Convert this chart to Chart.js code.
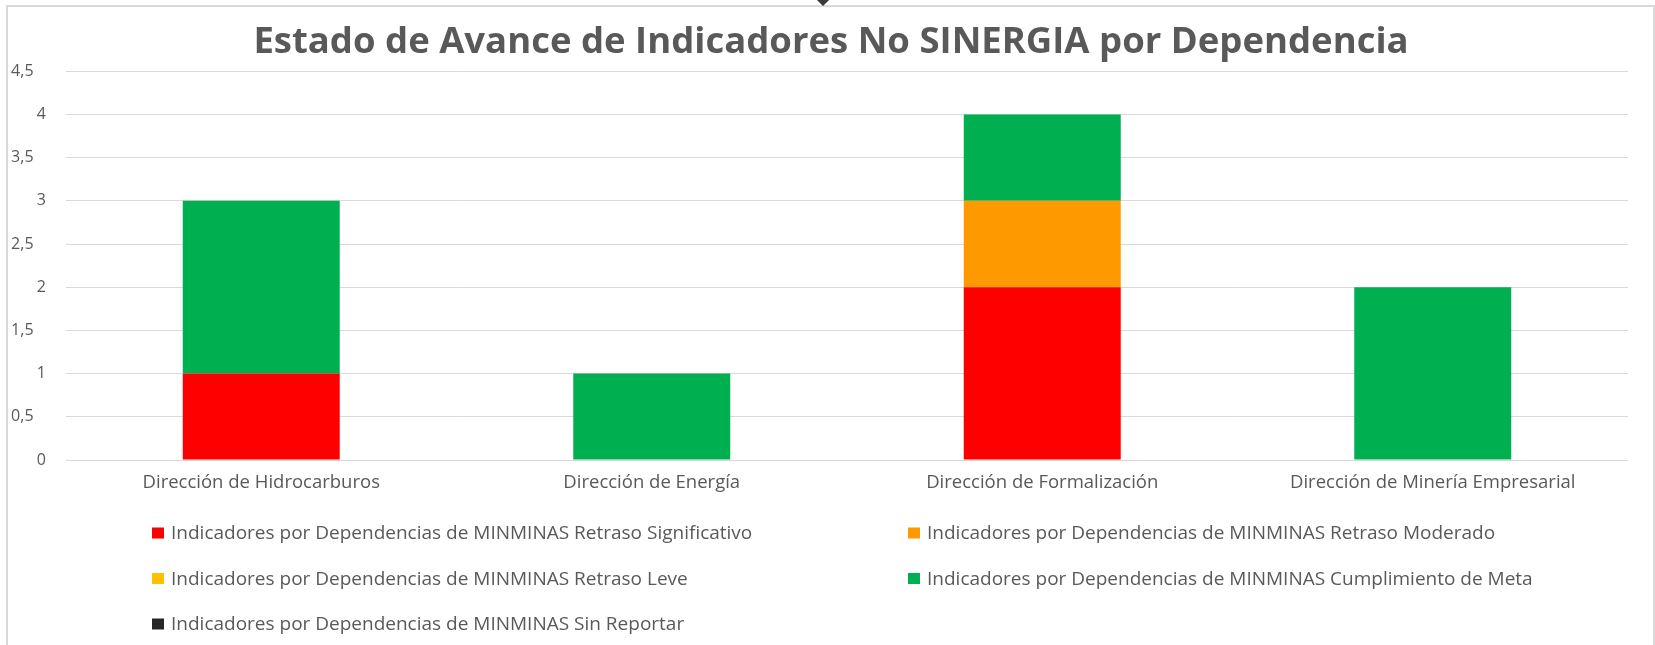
<!DOCTYPE html>
<html>
<head>
<meta charset="utf-8">
<script src="https://cdn.jsdelivr.net/npm/chart.js@4"></script>
<style>
  html, body { margin: 0; padding: 0; background: #fff; }
  #wrap { position: relative; width: 1655px; height: 645px; overflow: hidden; }
  #marco { position: absolute; left: 6px; top: 5px; width: 1649px; height: 700px; border: 2px solid #d9d9d9; box-sizing: border-box; }
  #asa { position: absolute; left: 818px; top: -6px; width: 10px; height: 10px; background: #3a3a3a; transform: rotate(45deg); }
  canvas { position: absolute; left: 0; top: 0; }
</style>
</head>
<body>
<div id="wrap">
  <div id="marco"></div>
  <div id="asa"></div>
  <canvas id="barChart" width="1655" height="645"></canvas>
</div>
<script>
  const categorias = ['Dirección de Hidrocarburos', 'Dirección de Energía', 'Dirección de Formalización', 'Dirección de Minería Empresarial'];
  const retrasoSignificativo = [1, 0, 2, 0];
  const retrasoModerado = [0, 0, 1, 0];
  const retrasoLeve = [0, 0, 0, 0];
  const cumplimientoMeta = [2, 1, 1, 2];
  const sinReportar = [0, 0, 0, 0];
  const pref = 'Indicadores por Dependencias de MINMINAS ';
  const titulo = 'Estado de Avance de Indicadores No SINERGIA por Dependencia';

  Chart.defaults.font.family = '"Open Sans", sans-serif';
  Chart.defaults.color = '#595959';

  // título y leyenda en dos columnas, como en Excel
  const adornos = {
    id: 'adornos',
    afterDraw(chart) {
      const ctx = chart.ctx;
      ctx.save();
      ctx.fillStyle = '#595959';
      ctx.font = 'bold 36.5px "Open Sans"';
      ctx.textAlign = 'center';
      ctx.textBaseline = 'middle';
      ctx.fillText(titulo, 831, 43);

      const cols = [152, 908];
      const filas = [533, 578.5, 624];
      ctx.font = '19px "Open Sans"';
      ctx.textAlign = 'left';
      chart.data.datasets.forEach((ds, i) => {
        const x = cols[i % 2];
        const y = filas[Math.floor(i / 2)];
        ctx.fillStyle = ds.backgroundColor;
        ctx.fillRect(x, y - 5.5, 12, 11);
        ctx.fillStyle = '#595959';
        ctx.fillText(ds.label, x + 19, y + 1);
      });
      ctx.restore();
    }
  };

  new Chart(document.getElementById('barChart'), {
    type: 'bar',
    data: {
      labels: categorias,
      datasets: [
        { label: pref + 'Retraso Significativo', data: retrasoSignificativo, backgroundColor: '#FF0000' },
        { label: pref + 'Retraso Moderado', data: retrasoModerado, backgroundColor: '#FF9900' },
        { label: pref + 'Retraso Leve', data: retrasoLeve, backgroundColor: '#FFC000' },
        { label: pref + 'Cumplimiento de Meta', data: cumplimientoMeta, backgroundColor: '#00B050' },
        { label: pref + 'Sin Reportar', data: sinReportar, backgroundColor: '#262626' }
      ]
    },
    options: {
      responsive: false,
      animation: false,
      devicePixelRatio: 1,
      layout: { padding: { left: 0, right: 27, top: 71.3, bottom: 0 } },
      datasets: { bar: { barPercentage: 0.402, categoryPercentage: 1, borderWidth: 0 } },
      plugins: {
        legend: { display: false },
        tooltip: { enabled: false },
        title: { display: false }
      },
      scales: {
        x: {
          stacked: true,
          grid: { display: false },
          border: { display: false },
          ticks: { padding: 4, font: { size: 18.5 }, color: '#595959' },
          afterFit: s => { s.height = 185; }
        },
        y: {
          stacked: true,
          min: 0,
          max: 4.5,
          grid: { color: '#d9d9d9', drawTicks: false },
          border: { display: false },
          ticks: {
            stepSize: 0.5,
            autoSkip: false,
            padding: 20,
            font: { size: 16 },
            color: '#595959',
            // en el original los decimales quedan corridos a la izquierda
            callback: v => Number.isInteger(v) ? String(v) : v.toLocaleString('es-CO') + '   '
          },
          afterFit: s => { s.width = 66; }
        }
      }
    },
    plugins: [adornos]
  });
</script>
</body>
</html>
